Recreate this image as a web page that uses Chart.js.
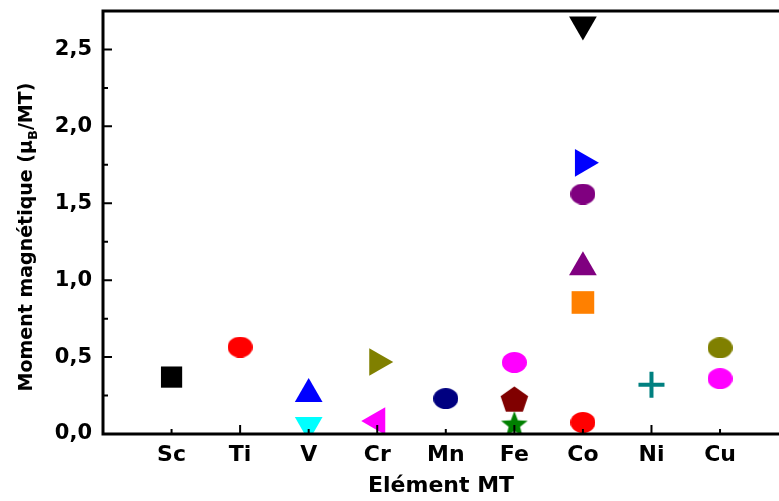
<!DOCTYPE html>
<html>
<head>
<meta charset="utf-8">
<script src="https://cdn.jsdelivr.net/npm/chart.js@4"></script>
<style>
html, body { margin: 0; padding: 0; background: #fff; overflow: hidden; }
#wrap { width: 779px; height: 501px; }
</style>
</head>
<body>
<div id="wrap"><canvas id="momentChart"></canvas></div>
<script>
// elements on the x axis
const elements = ["Sc", "Ti", "V", "Cr", "Mn", "Fe", "Co", "Ni", "Cu"];
// element of each plotted compound and its magnetic moment (muB / MT)
const pointElements = ["Sc", "Ti", "V", "V", "Cr", "Cr", "Mn", "Fe", "Fe", "Fe",
                       "Co", "Co", "Co", "Co", "Co", "Co", "Ni", "Cu", "Cu"];
const moments = [0.37, 0.565, 0.26, 0.058, 0.468, 0.084, 0.23, 0.465, 0.225, 0.065,
                 2.662, 1.763, 1.56, 1.084, 0.855, 0.075, 0.32, 0.56, 0.36];
const yTicks = [0, 0.5, 1.0, 1.5, 2.0, 2.5];

// marker look for each point
const markers = [
    { shape: "rect", color: "#000000", r: 15 },
    { shape: "ellipse", color: "#ff0000" },
    { shape: "triangle", rot: 0, color: "#0000ff" },
    { shape: "triangle", rot: 180, color: "#00ffff" },
    { shape: "triangle", rot: 90, color: "#808000" },
    { shape: "triangle", rot: 270, color: "#ff00ff" },
    { shape: "ellipse", color: "#000080" },
    { shape: "ellipse", color: "#ff00ff" },
    { shape: "pentagon", color: "#800000" },
    { shape: "star", color: "#008000" },
    { shape: "triangle", rot: 180, color: "#000000" },
    { shape: "triangle", rot: 90, color: "#0000ff" },
    { shape: "ellipse", color: "#800080" },
    { shape: "triangle", rot: 0, color: "#800080" },
    { shape: "rect", color: "#ff8000", r: 16 },
    { shape: "ellipse", color: "#ff0000" },
    { shape: "cross", color: "#008080" },
    { shape: "ellipse", color: "#808000" },
    { shape: "ellipse", color: "#ff00ff" },
];

function makeImage(shape, color) {
    const c = document.createElement("canvas");
    const g = c.getContext("2d");
    if (shape === "ellipse") {
        c.width = 25; c.height = 21;
        g.fillStyle = color;
        g.beginPath();
        g.ellipse(12.5, 10.5, 12.5, 10.5, 0, 0, Math.PI * 2);
        g.fill();
    } else if (shape === "pentagon") {
        c.width = 29; c.height = 27;
        g.fillStyle = color;
        g.beginPath();
        for (let k = 0; k < 5; k++) {
            const a = -Math.PI / 2 + k * 2 * Math.PI / 5;
            g.lineTo(14.5 + 14.5 * Math.cos(a), 14.5 + 14 * Math.sin(a));
        }
        g.closePath();
        g.fill();
    } else if (shape === "star") {
        c.width = 28; c.height = 27;
        g.fillStyle = color;
        g.beginPath();
        for (let k = 0; k < 10; k++) {
            const a = -Math.PI / 2 + k * Math.PI / 5;
            const rr = k % 2 === 0 ? 14 : 6;
            g.lineTo(14 + rr * Math.cos(a), 14.5 + rr * Math.sin(a));
        }
        g.closePath();
        g.fill();
    }
    return c;
}

const datasets = moments.map((m, i) => {
    const mk = markers[i];
    const ds = {
        data: [{ x: elements.indexOf(pointElements[i]) + 1, y: m }],
        backgroundColor: mk.color,
        borderColor: mk.color,
        borderWidth: 0,
        pointRadius: 16,
        rotation: mk.rot || 0,
    };
    if (mk.shape === "ellipse" || mk.shape === "pentagon" || mk.shape === "star") {
        ds.pointStyle = makeImage(mk.shape, mk.color);
    } else if (mk.shape === "rect") {
        ds.pointStyle = "rect";
        ds.pointRadius = mk.r;
    } else if (mk.shape === "cross") {
        ds.pointStyle = "cross";
        ds.pointRadius = 13;
        ds.borderWidth = 4;
    } else {
        ds.pointStyle = "triangle";
    }
    return ds;
});

const frame = {
    id: "frame",
    afterDraw(chart) {
        const { ctx, chartArea: a, scales: { x, y } } = chart;
        ctx.save();
        ctx.strokeStyle = "#000";
        ctx.lineWidth = 2;
        ctx.beginPath();
        for (let k = 1; k < 11; k++) {
            const py = y.getPixelForValue(k * 0.25);
            const len = k % 2 === 0 ? 9 : 5;
            ctx.moveTo(a.left, py);
            ctx.lineTo(a.left + len, py);
        }
        elements.forEach((_, i) => {
            const px = x.getPixelForValue(i + 1);
            const len = i % 2 === 1 ? 9 : 5;
            ctx.moveTo(px, a.bottom);
            ctx.lineTo(px, a.bottom - len);
        });
        ctx.stroke();

        ctx.lineWidth = 3;
        ctx.beginPath();
        ctx.moveTo(a.right + 2, a.top);
        ctx.lineTo(a.left, a.top);
        ctx.lineTo(a.left, a.bottom);
        ctx.lineTo(a.right + 2, a.bottom);
        ctx.stroke();

        // y title with subscript B
        const big = "bold 19px 'DejaVu Sans'";
        const small = "bold 13px 'DejaVu Sans'";
        const parts = [["Moment magnétique (μ", big, 0], ["B", small, 5], ["/MT)", big, 0]];
        let total = 0;
        parts.forEach(p => { ctx.font = p[1]; total += ctx.measureText(p[0]).width; });
        ctx.translate(32, 237);
        ctx.rotate(-Math.PI / 2);
        ctx.fillStyle = "#000";
        ctx.textBaseline = "alphabetic";
        let cx = -total / 2;
        parts.forEach(p => {
            ctx.font = p[1];
            ctx.fillText(p[0], cx, p[2]);
            cx += ctx.measureText(p[0]).width;
        });
        ctx.restore();
    }
};

function noPad(s) {
    s.paddingTop = 0;
    s.paddingBottom = 0;
    s.paddingLeft = 0;
    s.paddingRight = 0;
}

Chart.defaults.font.family = "'DejaVu Sans'";
Chart.defaults.font.weight = "bold";
Chart.defaults.color = "#000";

new Chart(document.getElementById("momentChart").getContext("2d"), {
    type: "scatter",
    data: { datasets: datasets },
    options: {
        responsive: true,
        maintainAspectRatio: false,
        animation: false,
        events: [],
        layout: { autoPadding: false, padding: { top: 11, right: 0, left: 0, bottom: 0 } },
        plugins: { legend: { display: false }, tooltip: { enabled: false } },
        scales: {
            x: {
                type: "linear",
                min: 0,
                max: 9.86,
                afterBuildTicks: s => { s.ticks = elements.map((_, i) => ({ value: i + 1 })); },
                afterFit: s => { s.height = 67; noPad(s); },
                grid: { display: false, drawTicks: false },
                border: { display: false },
                ticks: {
                    padding: 8,
                    font: { size: 22, weight: "bold" },
                    color: "#000",
                    callback: v => elements[v - 1],
                },
                title: {
                    display: true,
                    text: "Elément MT",
                    font: { size: 22, weight: "bold" },
                    color: "#000",
                    padding: { top: 0, bottom: 2 },
                },
            },
            y: {
                min: 0,
                max: 2.75,
                afterBuildTicks: s => { s.ticks = yTicks.map(v => ({ value: v })); },
                afterFit: s => { s.width = 103; noPad(s); },
                grid: { display: false, drawTicks: false },
                border: { display: false },
                ticks: {
                    padding: 11,
                    font: { size: 21, weight: "bold" },
                    color: "#000",
                    callback: v => v.toFixed(1).replace(".", ","),
                },
            },
        },
    },
    plugins: [frame],
});
</script>
</body>
</html>
